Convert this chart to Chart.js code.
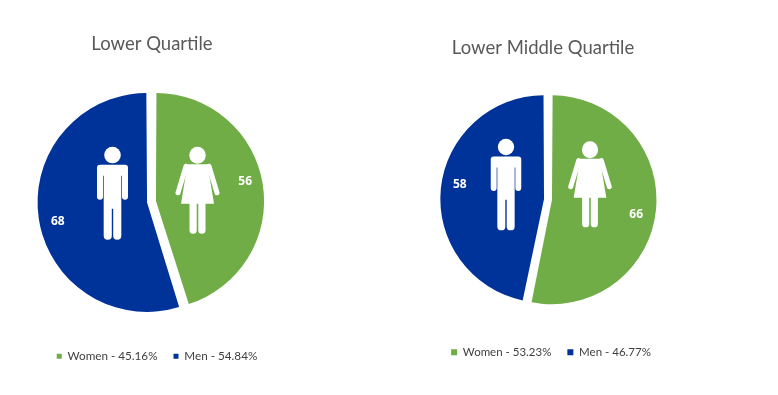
<!DOCTYPE html>
<html><head><meta charset="utf-8">
<script src="https://cdn.jsdelivr.net/npm/chart.js@4"></script>
<style>
html,body{margin:0;padding:0;background:#fff;overflow:hidden}
canvas{position:absolute;top:0}
#c1{left:0}
#c2{left:400px}
</style></head><body>
<canvas id="c1" width="303" height="395"></canvas>
<canvas id="c2" width="296" height="395"></canvas>
<script>
const categories = ['Women', 'Men'];
const lowerValues = [56, 68];
const lowerPercents = ['45.16%', '54.84%'];
const lowerMiddleValues = [66, 58];
const lowerMiddlePercents = ['53.23%', '46.77%'];
const colours = ['#70AD47', '#003399'];

function drawMan(ctx, cx, top, h) {
  const s = h / 93;
  ctx.save(); ctx.translate(cx, top); ctx.scale(s, s); ctx.fillStyle = '#fff';
  ctx.beginPath(); ctx.arc(0, 8.3, 8.3, 0, Math.PI * 2); ctx.fill();
  ctx.beginPath();
  ctx.roundRect(-15.5, 18, 31, 11, [3, 3, 0, 0]);
  ctx.roundRect(-15.5, 20, 6, 33, [0, 0, 3, 3]);
  ctx.roundRect(9.5, 20, 6, 33, [0, 0, 3, 3]);
  ctx.rect(-8.8, 20, 17.6, 42);
  ctx.roundRect(-8.8, 50, 8.1, 43, [0, 0, 4, 4]);
  ctx.roundRect(0.7, 50, 8.1, 43, [0, 0, 4, 4]);
  ctx.fill();
  ctx.restore();
}
function drawWoman(ctx, cx, top, h) {
  const s = h / 87;
  ctx.save(); ctx.translate(cx, top); ctx.scale(s, s); ctx.fillStyle = '#fff'; ctx.strokeStyle = '#fff';
  ctx.beginPath(); ctx.ellipse(0, 8.5, 8.2, 8.5, 0, 0, Math.PI * 2); ctx.fill();
  ctx.beginPath();
  ctx.moveTo(-10, 17.5); ctx.lineTo(10, 17.5); ctx.lineTo(16.5, 57); ctx.lineTo(-16.5, 57); ctx.closePath();
  ctx.fill();
  ctx.lineWidth = 5; ctx.lineCap = 'round';
  ctx.beginPath();
  ctx.moveTo(-11.5, 19.5); ctx.lineTo(-19.5, 46);
  ctx.moveTo(11.5, 19.5); ctx.lineTo(19.5, 46);
  ctx.stroke();
  ctx.beginPath();
  ctx.roundRect(-8, 55, 7.2, 32, [0, 0, 3.5, 3.5]);
  ctx.roundRect(0.8, 55, 7.2, 32, [0, 0, 3.5, 3.5]);
  ctx.fill();
  ctx.restore();
}

const decor = {
  id: 'decor',
  afterLayout(chart, args, o) {
    const l = chart.legend, t = chart.titleBlock;
    l.left += o.legendDx; l.right += o.legendDx; l.top += o.legendDy; l.bottom += o.legendDy;
    t.left += o.titleDx; t.right += o.titleDx;
  },
  afterDatasetsDraw(chart, args, o) {
    const ctx = chart.ctx, meta = chart.getDatasetMeta(0);
    const x0 = meta.data[0].x, y0 = meta.data[0].y;
    drawWoman(ctx, x0 + o.woman[0], y0 + o.woman[1], o.woman[2]);
    drawMan(ctx, x0 + o.man[0], y0 + o.man[1], o.man[2]);
    ctx.save();
    ctx.fillStyle = '#fff';
    ctx.font = 'bold 12px "Open Sans"';
    ctx.textAlign = 'center'; ctx.textBaseline = 'middle';
    meta.data.forEach((arc, i) => {
      const a = (arc.startAngle + arc.endAngle) / 2 + o.labelTurn * Math.PI / 180;
      const off = arc.options.offset / 4;
      const mid = (arc.startAngle + arc.endAngle) / 2;
      const r = arc.outerRadius * o.labelRadius;
      ctx.fillText(chart.data.datasets[0].data[i],
        arc.x + Math.cos(mid) * off + Math.cos(a) * r,
        arc.y + Math.sin(mid) * off + Math.sin(a) * r);
    });
    ctx.restore();
  }
};

function makePie(id, titleText, values, percents, opt) {
  new Chart(document.getElementById(id), {
    type: 'pie',
    plugins: [decor],
    data: {
      labels: categories.map((c, i) => c + ' - ' + percents[i]),
      datasets: [{ data: values, backgroundColor: colours, borderWidth: 0, offset: opt.offset, hoverOffset: 0 }]
    },
    options: {
      responsive: false, animation: false, radius: opt.radius,
      layout: { padding: { bottom: opt.bottom } },
      plugins: {
        tooltip: { enabled: false },
        title: { display: true, text: titleText, color: '#595959',
          font: { family: 'Lato', size: 18.5, weight: 'normal' },
          padding: { top: opt.titleTop, bottom: opt.titleBottom } },
        legend: { position: 'bottom', align: 'center',
          labels: { boxWidth: opt.box, boxHeight: opt.box, padding: opt.legendGap, color: '#404040',
            font: { family: 'Lato', size: opt.legendSize } } },
        decor: opt.decor
      }
    }
  });
}

makePie('c1', 'Lower Quartile', lowerValues, lowerPercents, {
  radius: 105, offset: 18, bottom: 24, titleTop: 33, titleBottom: 15, box: 5, legendGap: 16, legendSize: 11.7,
  decor: { legendDx: 5.5, legendDy: 1, titleDx: 0.5, man: [-39, -55, 93], woman: [46, -55, 87], labelRadius: 0.87, labelTurn: -3.6 }
});
makePie('c2', 'Lower Middle Quartile', lowerMiddleValues, lowerMiddlePercents, {
  radius: 100.5, offset: 16, bottom: 27, titleTop: 37, titleBottom: 9, box: 6, legendGap: 16, legendSize: 11.5,
  decor: { legendDx: 3, legendDy: 0, titleDx: -5, man: [-42, -60.5, 91.5], woman: [42, -58, 86], labelRadius: 0.85, labelTurn: 4 }
});
</script>
</body></html>
